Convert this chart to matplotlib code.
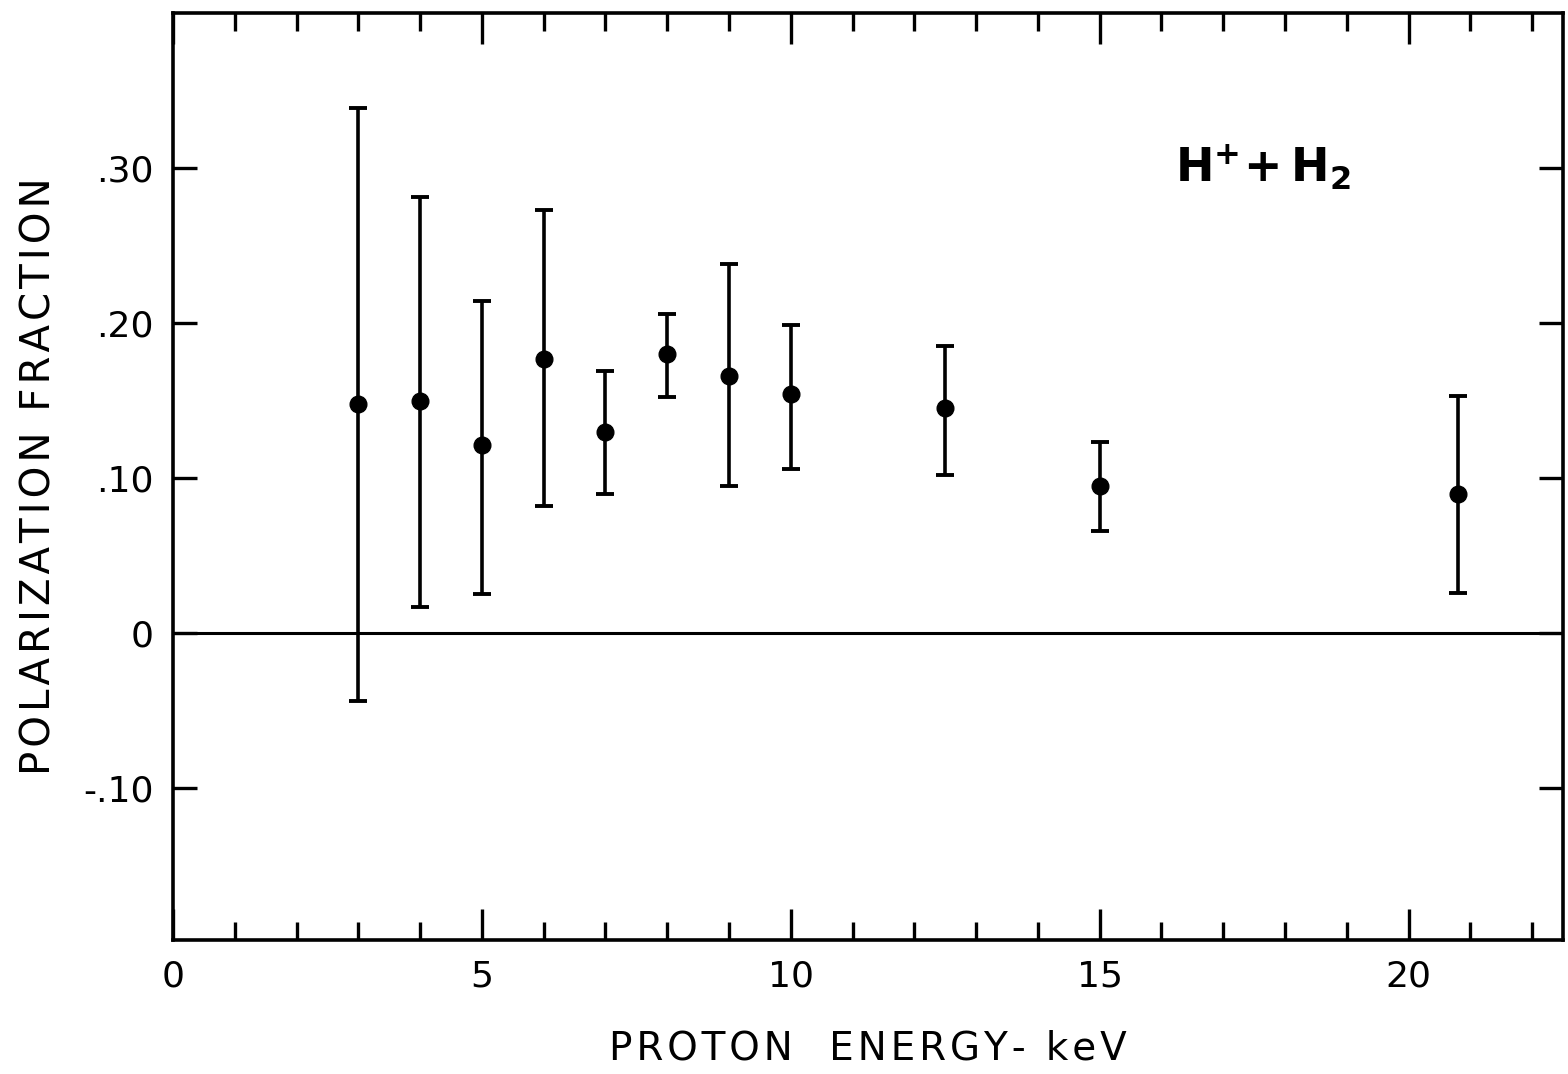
import matplotlib
matplotlib.use("Agg")
import matplotlib.pyplot as plt
from matplotlib.ticker import MultipleLocator

energy = [3, 4, 5, 6, 7, 8, 9, 10, 12.5, 15, 20.8]
polarization = [0.148, 0.150, 0.121, 0.177, 0.130, 0.180, 0.166, 0.154, 0.145, 0.095, 0.090]
err_upper = [0.339, 0.281, 0.214, 0.273, 0.169, 0.206, 0.238, 0.199, 0.185, 0.123, 0.153]
err_lower = [-0.044, 0.017, 0.025, 0.082, 0.090, 0.152, 0.095, 0.106, 0.102, 0.066, 0.026]

x_ticks = [0, 5, 10, 15, 20]
x_labels = ["0", "5", "10", "15", "20"]
y_ticks = [-0.10, 0, 0.10, 0.20, 0.30]
y_labels = ["-.10", "0", ".10", ".20", ".30"]

x_title = "PROTON  ENERGY- keV"
y_title = "POLARIZATION FRACTION"

plt.rcParams['font.family'] = ['DejaVu Sans']


def spaced(s):
    return "\u200a".join(s)


fig = plt.figure(figsize=(15.68, 10.74), dpi=100)
ax = fig.add_axes([173/1568, (1074-940)/1074, (1563-173)/1568, (940-13)/1074])

yerr = [[p - lo for p, lo in zip(polarization, err_lower)],
        [hi - p for p, hi in zip(polarization, err_upper)]]
ax.errorbar(energy, polarization, yerr=yerr, fmt='o', color='black',
            markersize=12, elinewidth=2.6, capsize=6.5, capthick=2.8, zorder=3)
ax.axhline(0, color='black', linewidth=2.2, zorder=2)

ax.set_xlim(0, 22.5)
ax.set_ylim(-0.198, 0.40)

for s in ax.spines.values():
    s.set_linewidth(2.6)

ax.set_xticks(x_ticks)
ax.set_xticklabels(x_labels)
ax.xaxis.set_minor_locator(MultipleLocator(1))
ax.set_yticks(y_ticks)
ax.set_yticklabels(y_labels)
ax.tick_params(axis='x', which='major', direction='in', length=22, width=2.4,
               top=True, labelsize=26, pad=14)
ax.tick_params(axis='x', which='minor', direction='in', length=13, width=2.4, top=True)
ax.tick_params(axis='y', which='major', direction='in', length=17, width=2.4,
               right=True, labelsize=26, pad=14)

ax.set_xlabel(spaced(x_title), fontsize=28, labelpad=26)
ax.set_ylabel(spaced(y_title), fontsize=29, labelpad=17)

ax.text(17.65, 0.300, r"$\mathbf{H^{+}\!+ H_{2}}$", fontsize=33, ha='center', va='center')

fig.savefig("out.png", dpi=100)
